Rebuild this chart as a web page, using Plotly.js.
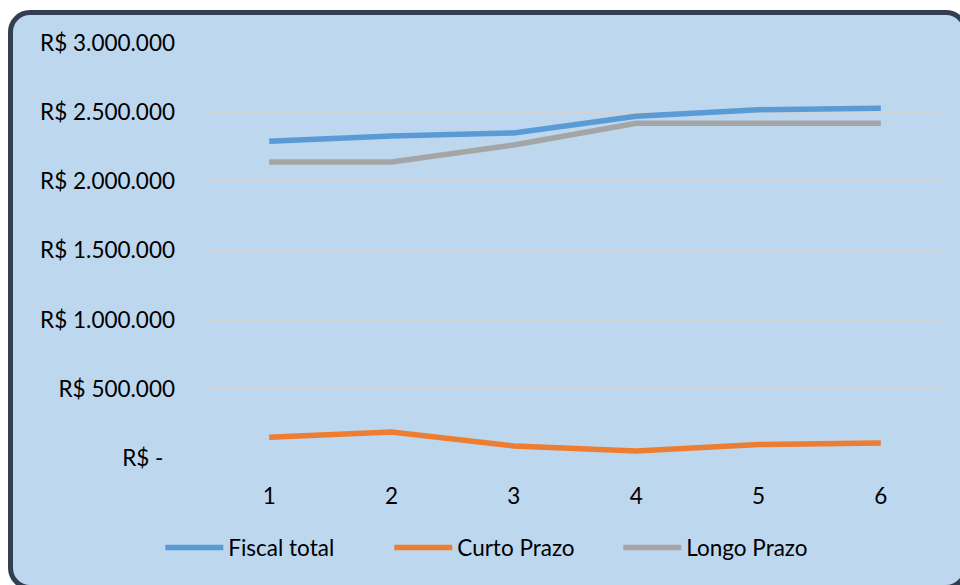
<!DOCTYPE html>
<html>
<head>
<meta charset="utf-8">
<script src="https://cdn.plot.ly/plotly-3.0.1.min.js"></script>
<style>
  html, body { margin: 0; padding: 0; background: #ffffff; }
  #wrap { position: relative; width: 960px; height: 585px; overflow: hidden; }
  #frame { position: absolute; left: 8px; top: 10px; width: 960px; height: 580px;
           box-sizing: border-box; border: 5px solid #333F50; border-radius: 22px; background: #BDD7EE; }
  #chart { position: absolute; left: 0; top: 0; width: 960px; height: 585px; }
</style>
</head>
<body>
<div id="wrap">
  <div id="frame"></div>
  <div id="chart"></div>
</div>
<script>
const categories = [1, 2, 3, 4, 5, 6];
const fiscalTotal = [2290000, 2328000, 2350000, 2471000, 2518000, 2528000];
const curtoPrazo = [150000, 188000, 87000, 51000, 98000, 108000];
const longoPrazo = [2140000, 2140000, 2263000, 2420000, 2420000, 2420000];
const tickValues = [0, 500000, 1000000, 1500000, 2000000, 2500000, 3000000];
const tickLabels = ['R$ -  ', 'R$ 500.000', 'R$ 1.000.000', 'R$ 1.500.000', 'R$ 2.000.000', 'R$ 2.500.000', 'R$ 3.000.000'];

const font = { family: 'Lato, "Liberation Sans", sans-serif', size: 22.5, color: '#000000' };

function series(name, y, color) {
  return { type: 'scatter', mode: 'lines', name: name, x: categories, y: y,
           line: { color: color, width: 5.5 }, hoverinfo: 'skip' };
}

const data = [
  series('Fiscal total', fiscalTotal, '#5B9BD5'),
  series('Curto Prazo', curtoPrazo, '#ED7D31'),
  series('Longo Prazo', longoPrazo, '#A5A5A5')
];

const layout = {
  width: 960, height: 585,
  paper_bgcolor: 'rgba(0,0,0,0)', plot_bgcolor: 'rgba(0,0,0,0)',
  margin: { l: 208, r: 18, t: 43, b: 127 },
  font: font,
  showlegend: true,
  legend: { orientation: 'h', x: -0.065, xanchor: 'left', y: -0.165, yanchor: 'top',
            font: font, itemwidth: 58, entrywidth: 156, bgcolor: 'rgba(0,0,0,0)', tracegroupgap: 0 },
  xaxis: { range: [0.5, 6.5], tickvals: categories, ticktext: categories.map(String),
           showgrid: false, zeroline: false, showline: false, ticks: '',
           ticklabelstandoff: 22, tickfont: font, fixedrange: true },
  yaxis: { range: [0, 3000000], tickvals: tickValues, ticktext: tickLabels,
           showgrid: true, gridcolor: '#D3D3D3', gridwidth: 2, zeroline: false,
           showline: false, ticks: '', ticklabelstandoff: 32, tickfont: font, fixedrange: true }
};

Plotly.newPlot('chart', data, layout, { displayModeBar: false, staticPlot: true });
</script>
</body>
</html>
